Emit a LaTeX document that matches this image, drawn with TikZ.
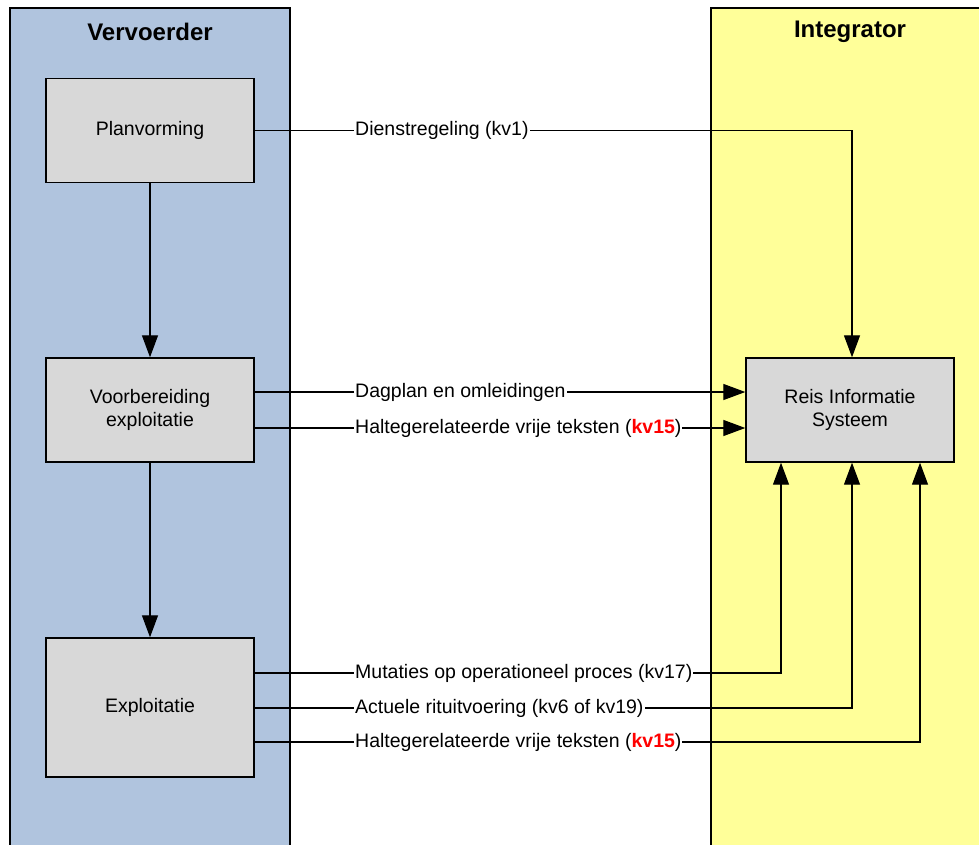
\documentclass[tikz,border=0pt]{standalone}
\usepackage{fontspec}
\setmainfont{Liberation Sans}
\usetikzlibrary{arrows.meta}
\definecolor{laneblue}{RGB}{176,196,222}
\definecolor{laneyellow}{RGB}{255,255,153}
\definecolor{boxgrey}{RGB}{216,216,216}
\begin{document}
\begin{tikzpicture}[x=1pt,y=-1pt,
    lane/.style={draw,line width=1.4pt},
    lanetitle/.style={font=\fontsize{24}{27}\selectfont\bfseries},
    proc/.style={draw,line width=1.4pt,fill=boxgrey,minimum width=208pt,minimum height=104pt,
        align=center,font=\fontsize{19.5}{23}\selectfont},
    flow/.style={line width=1.3pt,-{Triangle[length=22pt,width=16pt]}},
    lbl/.style={fill=white,inner sep=1pt,anchor=west,font=\fontsize{19.5}{23}\selectfont}]
    \useasboundingbox (0,0) rectangle (979,845);
    %% swimlanes
    \draw[lane,fill=laneblue] (10,8) rectangle (290,870);
    \draw[lane,fill=laneyellow] (711,8) rectangle (1000,870);
    \node[lanetitle] (vervoerder) at (150,32) {Vervoerder};
    \node[lanetitle] (integrator) at (850,32) {Integrator};
    %% processes
    \node[proc] (plan) at (150,130.5) {Planvorming};
    \node[proc] (voor) at (150,410) {Voorbereiding\\exploitatie};
    \node[proc,minimum height=139pt] (expl) at (150,707.5) {Exploitatie};
    \node[proc] (ris) at (850,410) {Reis Informatie\\Systeem};
    %% rows and label column
    \coordinate (lblcol) at (354,0);
    \coordinate (rowa) at (0,392);
    \coordinate (rowb) at (0,428);
    \coordinate (rowc) at (0,673);
    \coordinate (rowd) at (0,708);
    \coordinate (rowe) at (0,742);
    %% inside the carrier
    \draw[flow] (plan) -- (voor);
    \draw[flow] (voor) -- (expl);
    %% planning
    \draw[flow] (plan.east) -| ([xshift=2pt]ris.north);
    \node[lbl] (dienst) at (lblcol |- plan.east) {Dienstregeling (kv1)};
    %% preparation
    \draw[flow] (voor.east |- rowa) -- (ris.west |- rowa);
    \node[lbl] (dagplan) at (lblcol |- rowa) {Dagplan en omleidingen};
    \draw[flow] (voor.east |- rowb) -- (ris.west |- rowb);
    \node[lbl] (halte1) at (lblcol |- rowb) {Haltegerelateerde vrije teksten (\textcolor{red}{\bfseries kv15})};
    %% operation
    \draw[flow] (expl.east |- rowc) -| ([xshift=-69pt]ris.south);
    \node[lbl] (mutaties) at (lblcol |- rowc) {Mutaties op operationeel proces (kv17)};
    \draw[flow] (expl.east |- rowd) -| ([xshift=2pt]ris.south);
    \node[lbl] (actueel) at (lblcol |- rowd) {Actuele rituitvoering (kv6 of kv19)};
    \draw[flow] (expl.east |- rowe) -| ([xshift=70pt]ris.south);
    \node[lbl] (halte2) at (lblcol |- rowe) {Haltegerelateerde vrije teksten (\textcolor{red}{\bfseries kv15})};
\end{tikzpicture}
\end{document}
